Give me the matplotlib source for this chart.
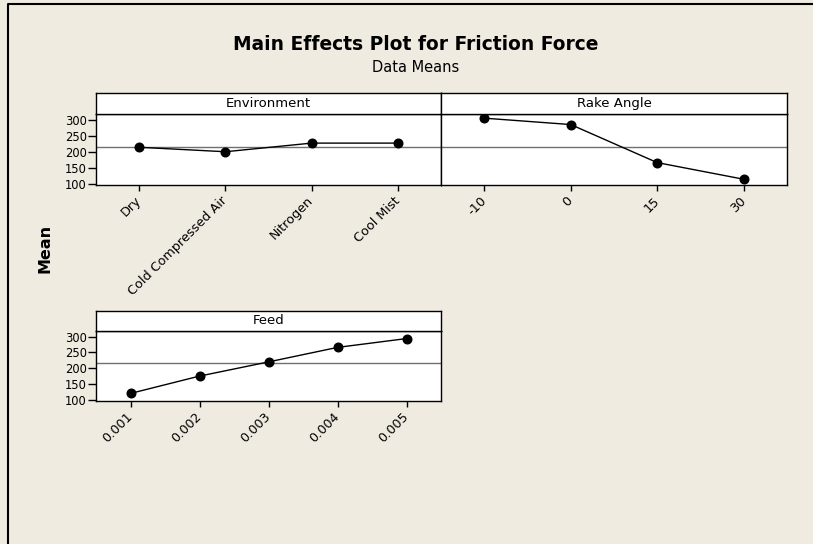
import matplotlib
matplotlib.use("Agg")
import matplotlib.pyplot as plt
from matplotlib.lines import Line2D

# data
env_levels = ["Dry", "Cold Compressed Air", "Nitrogen", "Cool Mist"]
env_means = [214, 200, 227, 227]

rake_levels = ["-10", "0", "15", "30"]
rake_means = [305, 285, 166, 114]

feed_levels = ["0.001", "0.002", "0.003", "0.004", "0.005"]
feed_means = [120, 175, 220, 266, 294]

grand_mean = 216
y_ticks = [100, 150, 200, 250, 300]

bg = "#EFEBE1"
W, H = 813, 544

plt.rcParams["font.family"] = ["DejaVu Sans"]

fig = plt.figure(figsize=(W / 100, H / 100), dpi=100, facecolor=bg)


def px_box(left, right, top, bottom):
    return [left / W, 1 - bottom / H, (right - left) / W, (bottom - top) / H]


def panel(levels, means, left, right, strip_top, top, bottom, title, show_y):
    ax = fig.add_axes(px_box(left, right, top, bottom))
    x = list(range(len(levels)))
    ax.axhline(grand_mean, color="#707070", lw=1, zorder=1)
    ax.plot(x, means, color="black", lw=1, marker="o", ms=6.2, zorder=3)
    ax.set_xlim(-0.5, len(levels) - 0.5)
    ax.set_ylim(96, 318)
    ax.set_xticks(x)
    ax.set_xticklabels(levels, rotation=45, ha="right", va="center",
                       rotation_mode="anchor", fontsize=9.2)
    ax.tick_params(axis="x", direction="out", length=4, width=1, pad=6)
    if show_y:
        ax.set_yticks(y_ticks)
        ax.tick_params(axis="y", direction="out", length=6, width=1, labelsize=8.3, pad=0.5)
    else:
        ax.set_yticks([])
    for s in ax.spines.values():
        s.set_linewidth(1)
    ax.set_facecolor("white")

    st = fig.add_axes(px_box(left, right, strip_top, top))
    st.set_xticks([])
    st.set_yticks([])
    st.set_facecolor("white")
    for s in st.spines.values():
        s.set_linewidth(1)
    st.text(0.5, 0.5, title, ha="center", va="center", fontsize=9.5, transform=st.transAxes)
    return ax


panel(env_levels, env_means, 96, 441, 93, 114, 185, "Environment", True)
panel(rake_levels, rake_means, 441, 787, 93, 114, 185, "Rake Angle", False)
panel(feed_levels, feed_means, 96, 441, 311, 331, 401, "Feed", True)

fig.text(416 / W, 1 - 45 / H, "Main Effects Plot for Friction Force", ha="center", va="center",
         fontsize=13.4, fontweight="bold")
fig.text(416 / W, 1 - 67 / H, "Data Means", ha="center", va="center", fontsize=10.5)
fig.text(45 / W, 1 - 248 / H, "Mean", rotation=90, ha="center", va="center",
         fontsize=11.5, fontweight="bold")

# outer frame (left and top edges only visible)
fig.add_artist(Line2D([8 / W, 8 / W, 1], [0, 1 - 4 / H, 1 - 4 / H], color="black", lw=1.5,
                      transform=fig.transFigure))

fig.savefig("out.png", dpi=100, facecolor=bg)
